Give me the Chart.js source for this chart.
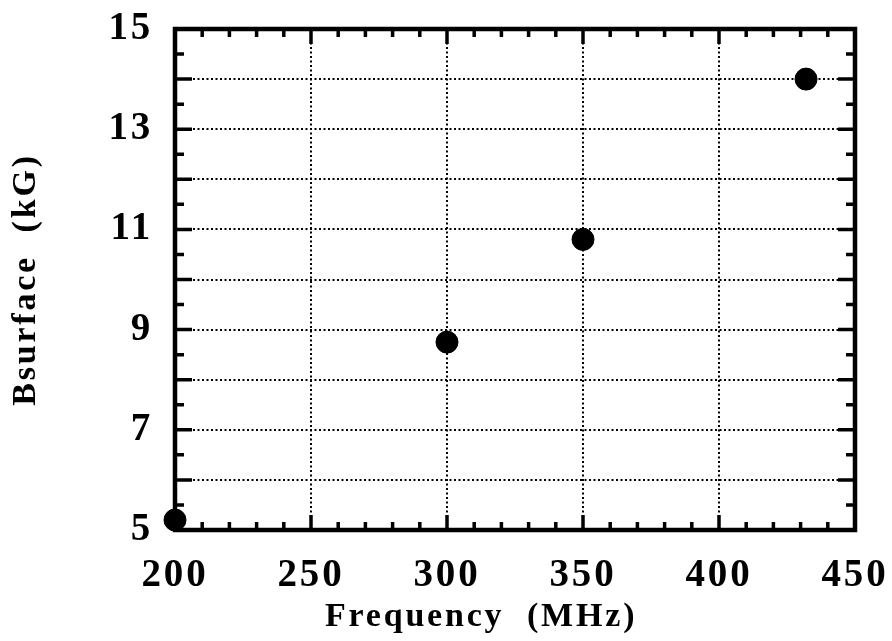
<!DOCTYPE html>
<html>
<head>
<meta charset="utf-8">
<script src="https://cdn.jsdelivr.net/npm/chart.js@4/dist/chart.umd.min.js"></script>
<style>
  html, body { margin: 0; padding: 0; background: #fff; }
  #wrap { width: 892px; height: 641px; }
</style>
</head>
<body>
<div id="wrap"><canvas id="c" width="892" height="641"></canvas></div>
<script>
// ---- data ----
const frequencyMHz = [200, 300, 350, 432];
const bSurfaceKG = [5.2, 8.75, 10.8, 14.0];
const xTickLabels = [200, 250, 300, 350, 400, 450];
const yTickLabels = [5, 7, 9, 11, 13, 15];
const xTitle = 'Frequency  (MHz)';
const yTitle = 'Bsurface  (kG)';

const FONT = '"Liberation Serif", "Times New Roman", Times, serif';
const CH = { left: 175, right: 855, top: 29, bottom: 530 };

const framePlugin = {
  id: 'frame',
  beforeDraw(chart) {
    chart.ctx.letterSpacing = '2.8px';
  },
  beforeDatasetsDraw(chart) {
    const ctx = chart.ctx;
    const a = chart.chartArea;
    const xs = chart.scales.x, ys = chart.scales.y;
    ctx.save();
    ctx.strokeStyle = '#000';
    ctx.lineCap = 'butt';
    ctx.lineWidth = 3.5;
    for (let v = 200; v <= 450; v += 10) {
      const px = xs.getPixelForValue(v);
      const len = (v % 50 === 0) ? 15 : 8;
      ctx.beginPath();
      ctx.moveTo(px, a.bottom); ctx.lineTo(px, a.bottom - len);
      ctx.moveTo(px, a.top); ctx.lineTo(px, a.top + len);
      ctx.stroke();
    }
    for (let v = 5; v <= 15; v += 0.5) {
      const py = ys.getPixelForValue(v);
      const len = (Number.isInteger(v)) ? 17 : 9;
      ctx.beginPath();
      ctx.moveTo(a.left, py); ctx.lineTo(a.left + len, py);
      ctx.moveTo(a.right, py); ctx.lineTo(a.right - len, py);
      ctx.stroke();
    }
    ctx.lineWidth = 4.5;
    ctx.strokeRect(a.left, a.top, a.right - a.left, a.bottom - a.top);
    ctx.restore();
  }
};

new Chart(document.getElementById('c'), {
  type: 'scatter',
  data: {
    datasets: [{
      label: 'Bsurface',
      data: frequencyMHz.map((f, i) => ({ x: f, y: bSurfaceKG[i] })),
      backgroundColor: '#000',
      borderColor: '#000',
      pointRadius: 11,
      pointHoverRadius: 11,
      clip: false,
      showLine: false
    }]
  },
  options: {
    responsive: false,
    animation: false,
    events: [],
    layout: { padding: { top: CH.top, right: 892 - CH.right, left: 0, bottom: 0 } },
    plugins: { legend: { display: false }, tooltip: { enabled: false } },
    scales: {
      x: {
        type: 'linear',
        min: 200, max: 450,
        afterFit(s) { s.height = 641 - CH.bottom; s.paddingLeft = 0; s.paddingRight = 0; },
        ticks: {
          stepSize: 10,
          autoSkip: false,
          maxRotation: 0,
          padding: 23,
          color: '#000',
          font: { family: FONT, size: 39, weight: 'bold' },
          callback: (v) => xTickLabels.includes(v) ? String(v) : ''
        },
        grid: {
          drawTicks: false,
          lineWidth: 2,
          color: (c) => (c.tick && c.tick.value % 50 === 0) ? '#000' : 'rgba(0,0,0,0)'
        },
        border: { display: false, dash: [2, 2.5] },
        title: {
          display: true,
          text: xTitle + '\u00a0\u00a0\u00a0\u00a0\u00a0\u00a0',
          color: '#000',
          font: { family: FONT, size: 34, weight: 'bold', lineHeight: 1.2 },
          padding: { top: 0, bottom: 3 }
        }
      },
      y: {
        type: 'linear',
        min: 5, max: 15,
        afterFit(s) { s.width = CH.left; s.paddingTop = 0; s.paddingBottom = 0; },
        ticks: {
          stepSize: 0.5,
          autoSkip: false,
          padding: 22,
          color: '#000',
          font: { family: FONT, size: 39, weight: 'bold' },
          callback: (v) => yTickLabels.includes(v) ? String(v) : ''
        },
        grid: {
          drawTicks: false,
          lineWidth: 2,
          color: (c) => (c.tick && Number.isInteger(c.tick.value)) ? '#000' : 'rgba(0,0,0,0)'
        },
        border: { display: false, dash: [2, 2.5] },
        title: {
          display: true,
          text: yTitle,
          color: '#000',
          font: { family: FONT, size: 34, weight: 'bold', lineHeight: 1.2 },
          padding: { top: 6, bottom: 0 }
        }
      }
    }
  },
  plugins: [framePlugin]
});
</script>
</body>
</html>
